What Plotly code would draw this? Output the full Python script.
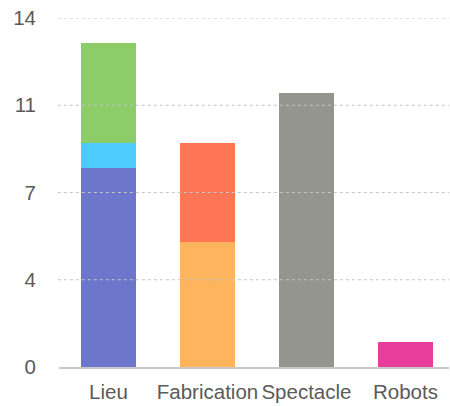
import plotly.graph_objects as go

categories = ["Lieu", "Fabrication", "Spectacle", "Robots"]

# stacked segments: (values per category, colour)
seg_blue = [8, 0, 0, 0]
seg_cyan = [1, 0, 0, 0]
seg_green = [4, 0, 0, 0]
seg_orange = [0, 5, 0, 0]
seg_red = [0, 4, 0, 0]
seg_gray = [0, 0, 11, 0]
seg_pink = [0, 0, 0, 1]

tick_vals = [0, 3.5, 7, 10.5, 14]
tick_text = ["0", "4", "7", "11", "14"]

segments = [
    (seg_blue, "#6c77cb"),
    (seg_cyan, "#4dcbfc"),
    (seg_green, "#8ccd6a"),
    (seg_orange, "#fdb45c"),
    (seg_red, "#fe7656"),
    (seg_gray, "#959590"),
    (seg_pink, "#e83d9b"),
]

fig = go.Figure()
for vals, col in segments:
    fig.add_trace(go.Bar(x=categories, y=vals, marker=dict(color=col, line=dict(width=0)),
                         showlegend=False, hoverinfo="skip"))

# dotted grid drawn above the bars
for v in tick_vals[1:]:
    fig.add_shape(type="line", xref="paper", yref="y", x0=-0.003, x1=1, y0=v, y1=v,
                  line=dict(color="#c4c4c4", width=1.2, dash="dot"), layer="above")

font = dict(family="Liberation Sans, Arial, sans-serif", size=20.5, color="#5a5a5a")

fig.update_layout(
    width=450, height=406,
    margin=dict(l=59, r=1, t=18, b=39, autoexpand=False),
    paper_bgcolor="white", plot_bgcolor="white",
    barmode="stack", bargap=0.444,
    font=font,
    xaxis=dict(range=[-0.5, 3.44], showgrid=False, showline=True, linecolor="#c8c8c8",
               linewidth=1.5, ticks="", ticklabelstandoff=6, tickangle=0, automargin=False,
               tickfont=font, fixedrange=True),
    yaxis=dict(range=[0, 14], tickvals=tick_vals, ticktext=tick_text, showgrid=False,
               zeroline=False, showline=False, ticks="", ticklabelstandoff=22,
               automargin=False, tickfont=font, fixedrange=True),
)

fig.write_html("out.html", config={"displayModeBar": False})
